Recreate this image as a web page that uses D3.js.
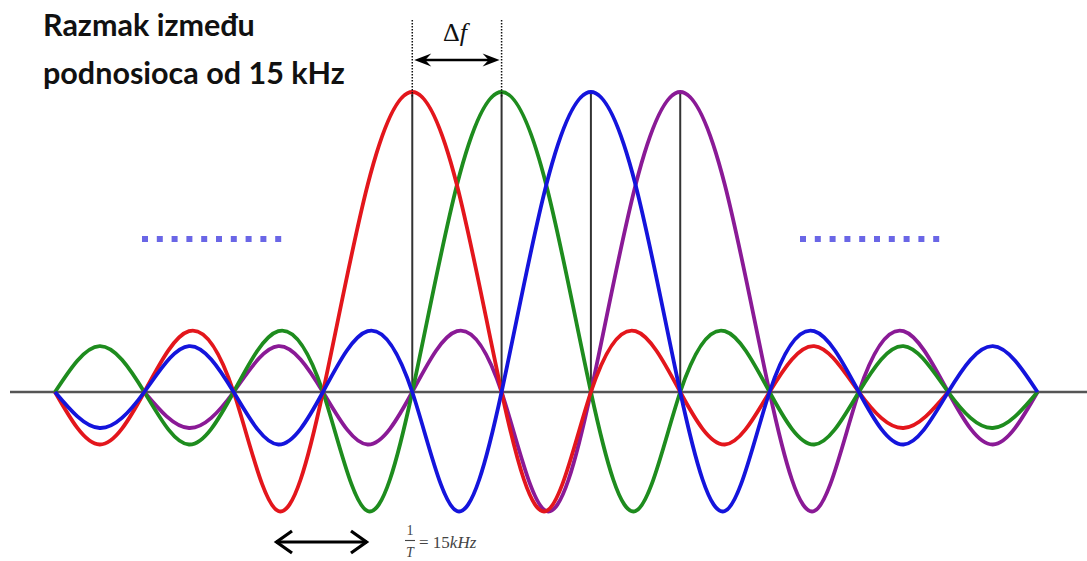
<!DOCTYPE html>
<html><head><meta charset="utf-8">
<script src="https://cdn.jsdelivr.net/npm/d3@7"></script>
<style>html,body{margin:0;padding:0;background:#fff;overflow:hidden}</style>
</head><body><svg id="c" width="1087" height="561"></svg>
<script>
// ---- data ----
const zeroCrossings = [0,1,2,3,4,5,6,7,8,9,10,11];   // subcarrier-spacing units
const carriers = [4,5,6,7];                           // peak positions (red, green, blue, purple)
const sampleStep = 0.5;
const redStart = 0;
const redValues = [0,-0.175,0,0.203,0,-0.397,0,0.69,1,0.69,0,-0.397,0,0.203,0,-0.175,0,0.153,0,-0.12,0];
const greenStart = 0;
const greenValues = [0,0.153,0,-0.175,0,0.203,0,-0.397,0,0.69,1,0.69,0,-0.397,0,0.203,0,-0.175,0,0.153,0,-0.12,0];
const blueStart = 0;
const blueValues = [0,-0.12,0,0.153,0,-0.175,0,0.203,0,-0.397,0,0.69,1,0.69,0,-0.397,0,0.203,0,-0.175,0,0.153,0];
const purpleStart = 1;
const purpleValues = [0,-0.12,0,0.153,0,-0.175,0,0.203,0,-0.397,0,0.69,1,0.69,0,-0.397,0,0.203,0,-0.175,0];
const titleLines = ["Razmak između", "podnosioca od 15 kHz"];

const svg = d3.select("#c");
const x = d3.scaleLinear().domain([0, 11]).range([55, 1037.5]);
const y = d3.scaleLinear().domain([0, 1]).range([392, 92]);

// baseline
svg.append("line").attr("x1", 10).attr("x2", 1087).attr("y1", y(0)).attr("y2", y(0))
  .attr("stroke", "#555").attr("stroke-width", 2.5);

// vertical peak lines
svg.selectAll("line.peak").data(carriers).join("line").attr("class","peak")
  .attr("x1", d => x(d)).attr("x2", d => x(d)).attr("y1", y(0)).attr("y2", y(1))
  .attr("stroke", "#333").attr("stroke-width", 2);

// curves
const series = [
  {name:"purple", start:purpleStart, values:purpleValues, color:"#8a1a96"},
  {name:"green", start:greenStart, values:greenValues, color:"#1e8c1e"},
  {name:"red", start:redStart, values:redValues, color:"#e3161c"},
  {name:"blue", start:blueStart, values:blueValues, color:"#1414dc"}
];
const line = d3.line().x(d => x(d[0])).y(d => y(d[1])).curve(d3.curveNatural);
svg.selectAll("path.sub").data(series).join("path").attr("class","sub")
  .attr("d", s => line(s.values.map((v,i) => [s.start + i*sampleStep, v])))
  .attr("fill","none").attr("stroke", s => s.color).attr("stroke-width", 3.8)
  .attr("stroke-linejoin","round");

// dotted guides above first two peaks
svg.selectAll("line.dot").data(carriers.slice(0,2)).join("line").attr("class","dot")
  .attr("x1", d => x(d)).attr("x2", d => x(d)).attr("y1", 20).attr("y2", y(1) + 6)
  .attr("stroke", "#111").attr("stroke-width", 1.5).attr("stroke-dasharray", "1.5,1.5");

// Δf arrow
const ay = 60, ax1 = x(carriers[0]) + 2, ax2 = x(carriers[1]) - 2;
svg.append("line").attr("x1", ax1 + 6).attr("x2", ax2 - 6).attr("y1", ay).attr("y2", ay)
  .attr("stroke", "#000").attr("stroke-width", 2.4);
function head(tx, dir) {
  const L = 17, W = 6.5, n = 11;
  return `M${tx},${ay} L${tx + dir*L},${ay - W} L${tx + dir*n},${ay} L${tx + dir*L},${ay + W} Z`;
}
svg.append("path").attr("d", head(ax1, 1)).attr("fill", "#000");
svg.append("path").attr("d", head(ax2, -1)).attr("fill", "#000");
const df = svg.append("text").attr("x", (ax1 + ax2) / 2 - 2).attr("y", 41).attr("text-anchor", "middle")
  .attr("font-family", "Liberation Serif, DejaVu Serif, serif").attr("font-size", 26).attr("fill", "#111");
df.append("tspan").text("Δ");
df.append("tspan").attr("font-style", "italic").text("f");

// blue dotted ellipses
[[142, 287], [800, 944]].forEach(([a, b]) => {
  svg.append("line").attr("x1", a).attr("x2", b).attr("y1", 239).attr("y2", 239)
    .attr("stroke", "#6a66e6").attr("stroke-width", 6).attr("stroke-dasharray", "6,8.8");
});

// bottom double arrow (open chevrons)
const by = 542, bx1 = 275, bx2 = 368;
svg.append("line").attr("x1", bx1 + 1).attr("x2", bx2 - 1).attr("y1", by).attr("y2", by)
  .attr("stroke", "#000").attr("stroke-width", 3);
svg.append("path").attr("d", `M${bx1 + 17},${by - 11} L${bx1 + 1.5},${by} L${bx1 + 17},${by + 11}`)
  .attr("fill", "none").attr("stroke", "#000").attr("stroke-width", 3.2).attr("stroke-linejoin","miter");
svg.append("path").attr("d", `M${bx2 - 17},${by - 11} L${bx2 - 1.5},${by} L${bx2 - 17},${by + 11}`)
  .attr("fill", "none").attr("stroke", "#000").attr("stroke-width", 3.2).attr("stroke-linejoin","miter");

// 1/T = 15kHz
const fx = 410;
const ff = "Liberation Serif, DejaVu Serif, serif";
svg.append("text").attr("x", fx).attr("y", 535).attr("text-anchor","middle")
  .attr("font-family", ff).attr("font-size", 14).attr("fill", "#444").text("1");
svg.append("line").attr("x1", fx - 5).attr("x2", fx + 5).attr("y1", 540.5).attr("y2", 540.5)
  .attr("stroke", "#444").attr("stroke-width", 1.1);
svg.append("text").attr("x", fx).attr("y", 557).attr("text-anchor","middle")
  .attr("font-family", ff).attr("font-style","italic").attr("font-size", 14).attr("fill", "#444").text("T");
const eq = svg.append("text").attr("x", 419).attr("y", 548)
  .attr("font-family", ff).attr("font-size", 17).attr("fill", "#444");
eq.append("tspan").text("= 15");
eq.append("tspan").attr("font-style","italic").text("kHz");

// title
const tt = svg.append("g");
const t1 = tt.append("text").attr("x", 43).attr("y", 36).text(titleLines[0]);
const t2 = tt.append("text").attr("x", 43).attr("y", 84).text(titleLines[1]);
tt.selectAll("text").attr("font-family", "Lato, Open Sans, sans-serif").attr("font-weight", "bold")
  .attr("font-size", 26).attr("fill", "#111");
const w = t2.node().getComputedTextLength();
tt.selectAll("text").attr("font-size", 26 * 302 / w);
</script></body></html>
